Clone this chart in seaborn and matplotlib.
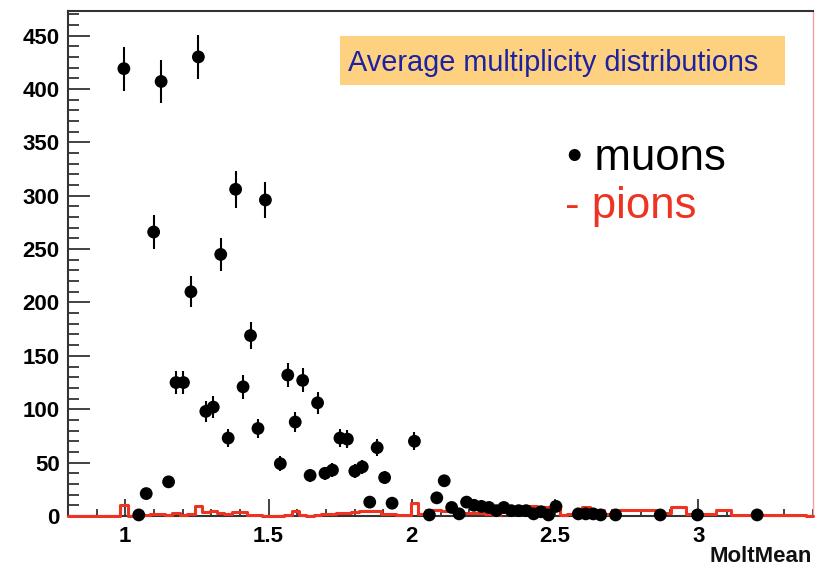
import numpy as np
import pandas as pd
import matplotlib
matplotlib.use("Agg")
import matplotlib.pyplot as plt
import seaborn as sns
from matplotlib.patches import Rectangle
from matplotlib.ticker import MultipleLocator

# =====================================================
# SETTINGS
# =====================================================

sns.set_theme(style="white")
plt.rcParams["font.family"] = ["Liberation Sans", "DejaVu Sans"]

RED = "#ee3322"
BLUE = "#1c22a0"
BOX = "#fdd17f"

# =====================================================
# DATA
# =====================================================

# muons: bin centres and counts
muon_x = [
    0.995, 1.047, 1.073, 1.099, 1.125, 1.151, 1.177, 1.203, 1.229, 1.255,
    1.281, 1.307, 1.333, 1.359, 1.385, 1.411, 1.437, 1.463, 1.489,
    1.541, 1.567, 1.593, 1.619, 1.645, 1.671, 1.697, 1.723, 1.749, 1.775,
    1.801, 1.827, 1.853, 1.879, 1.905, 1.931,
    2.009, 2.061, 2.087, 2.113, 2.139, 2.165, 2.191, 2.217, 2.243, 2.269,
    2.295, 2.321, 2.347, 2.373, 2.399, 2.425, 2.451, 2.477, 2.503,
    2.581, 2.607, 2.633, 2.659, 2.711, 2.867, 2.997, 3.205,
]
muon_counts = [
    419, 1, 21, 266, 407, 32, 125, 125, 210, 430,
    98, 102, 245, 73, 306, 121, 169, 82, 296,
    49, 132, 88, 127, 38, 106, 40, 43, 73, 72,
    42, 46, 13, 64, 36, 12,
    70, 1, 17, 33, 8, 2, 13, 10, 9, 8,
    5, 8, 5, 5, 5, 2, 4, 1, 9,
    2, 2, 2, 1, 1, 1, 1, 1,
]

# pions: 100 bins from 0.8 to 3.4
pion_counts = [
    0, 0, 0, 0, 0, 0, 0, 10, 0, 0,
    1, 2, 2, 1, 3, 1, 2, 9, 4, 5,
    3, 2, 4, 4, 1, 1, 0, 0, 0, 1,
    5, 1, 0, 1, 2, 2, 3, 3, 4, 5,
    5, 5, 2, 2, 1, 1, 12, 2, 6, 6,
    5, 5, 4, 3, 3, 3, 2, 1, 4, 4,
    7, 9, 9, 8, 8, 9, 1, 2, 6, 8,
    6, 6, 2, 6, 6, 6, 6, 6, 6, 3,
    3, 8, 8, 2, 2, 2, 2, 6, 6, 1,
    1, 1, 1, 1, 1, 1, 1, 1, 1, 0,
]

x_range = (0.8, 3.4)
y_range = (0, 473)

# =====================================================
# FIGURE
# =====================================================

fig = plt.figure(figsize=(8.15, 5.67), dpi=100)
ax = fig.add_axes([68 / 815, 1 - 516 / 567, (813 - 68) / 815, (516 - 11) / 567])

edges = np.linspace(x_range[0], x_range[1], len(pion_counts) + 1)
pions = pd.DataFrame({
    "x": (edges[:-1] + edges[1:]) / 2,
    "w": pion_counts
})

sns.histplot(
    data=pions,
    x="x",
    weights="w",
    bins=edges.tolist(),
    element="step",
    fill=False,
    color=RED,
    linewidth=2.2,
    ax=ax
)
for line in ax.lines:
    line.set_clip_on(False)
    line.set_zorder(3)

muons = pd.DataFrame({"x": muon_x, "n": muon_counts})

ax.errorbar(
    muons["x"],
    muons["n"],
    yerr=np.sqrt(muons["n"]),
    fmt="none",
    ecolor="black",
    elinewidth=1.5,
    capsize=0,
    zorder=4,
    clip_on=False
)
sns.scatterplot(
    data=muons,
    x="x",
    y="n",
    color="black",
    s=85,
    edgecolor="none",
    zorder=5,
    clip_on=False,
    ax=ax
)

ax.set_xlim(*x_range)
ax.set_ylim(*y_range)
ax.set_xlabel("")
ax.set_ylabel("")

ax.xaxis.set_major_locator(MultipleLocator(0.5))
ax.xaxis.set_minor_locator(MultipleLocator(0.1))
ax.yaxis.set_major_locator(MultipleLocator(50))
ax.yaxis.set_minor_locator(MultipleLocator(10))
ax.set_xticks([1, 1.5, 2, 2.5, 3])
ax.set_xticklabels(["1", "1.5", "2", "2.5", "3"])

ax.tick_params(axis="both", which="both", direction="in", colors="#222222",
               bottom=True, left=True, top=False, right=False)
ax.tick_params(axis="x", which="major", length=12, width=1.2, pad=7,
               labelsize=16)
ax.tick_params(axis="x", which="minor", length=5, width=1.2)
ax.tick_params(axis="y", which="major", length=16, width=1.2, pad=6,
               labelsize=16)
ax.tick_params(axis="y", which="minor", length=8, width=1.2)
for lab in ax.get_xticklabels() + ax.get_yticklabels():
    lab.set_fontweight("bold")
    lab.set_color("black")

for side in ["left", "bottom", "top"]:
    ax.spines[side].set_color("#333333")
    ax.spines[side].set_linewidth(1.5)
ax.spines["right"].set_color("#f2a0a0")
ax.spines["right"].set_linewidth(1.0)

# axis title
fig.text(812 / 815, 1 - 556 / 567, "MoltMean", ha="right", va="center",
         fontsize=16, fontweight="bold", color="#111111")

# title box
fig.patches.append(Rectangle((340 / 815, 1 - 85 / 567), 445 / 815, 49 / 567,
                             transform=fig.transFigure, facecolor=BOX,
                             edgecolor="none", zorder=1))
fig.text(348 / 815, 1 - 71 / 567, "Average multiplicity distributions",
         ha="left", va="baseline", fontsize=20.8, color=BLUE, zorder=2)

# legend text
fig.text(567 / 815, 1 - 170 / 567, "\u2022 muons", ha="left", va="baseline",
         fontsize=31.5, color="black")
fig.text(565 / 815, 1 - 218 / 567, "- pions", ha="left", va="baseline",
         fontsize=31.5, color=RED)

fig.savefig("out.png", dpi=100)
